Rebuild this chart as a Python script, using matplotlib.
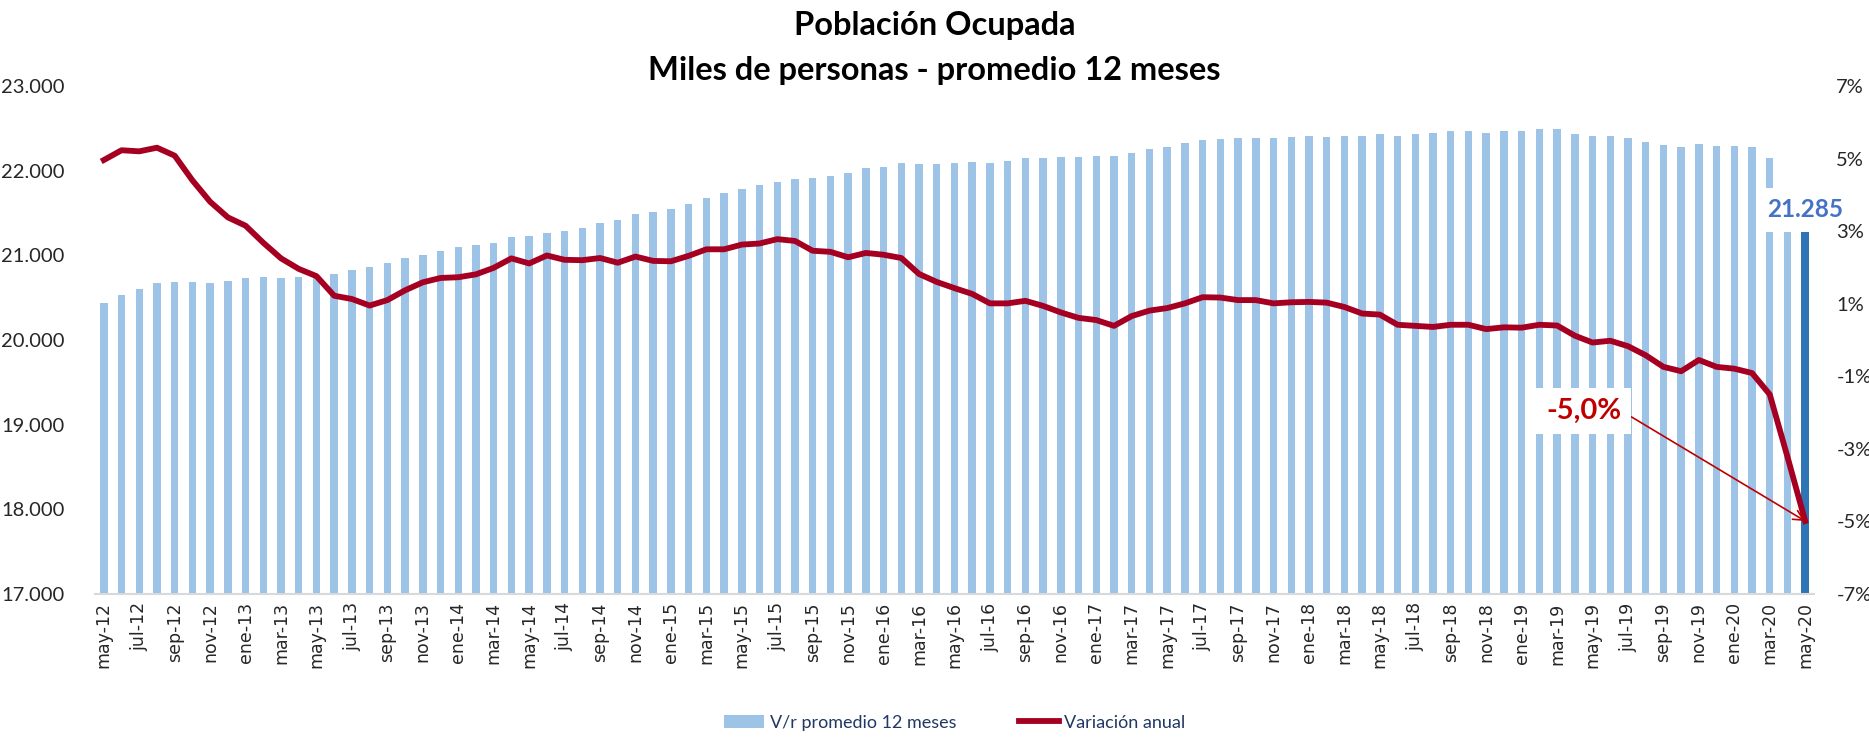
import matplotlib.pyplot as plt
import matplotlib.ticker as mticker
import numpy as np

# meses en español (cada mes de may-12 a may-20)
mes_abrev = ['ene', 'feb', 'mar', 'abr', 'may', 'jun',
             'jul', 'ago', 'sep', 'oct', 'nov', 'dic']
meses = []
for anio in range(12, 21):
  for m in range(12):
    if (anio == 12 and m < 4) or (anio == 20 and m > 4):
      continue
    meses.append(mes_abrev[m] + "-" + str(anio))

# ocupados, miles de personas - promedio 12 meses
ocupados = [
  20432, 20537, 20600, 20676, 20684, 20684, 20676, 20701, 20731, 20739,
  20735, 20743, 20760, 20781, 20827, 20861, 20912, 20966, 21008, 21051,
  21093, 21118, 21147, 21211, 21223, 21261, 21282, 21324, 21379, 21421,
  21493, 21509, 21552, 21606, 21678, 21733, 21783, 21829, 21872, 21897,
  21909, 21935, 21977, 22027, 22044, 22086, 22074, 22078, 22086, 22099,
  22095, 22120, 22145, 22149, 22158, 22162, 22171, 22175, 22213, 22259,
  22276, 22322, 22360, 22377, 22385, 22385, 22381, 22398, 22406, 22402,
  22415, 22415, 22432, 22415, 22436, 22448, 22474, 22474, 22440, 22465,
  22469, 22491, 22495, 22432, 22406, 22406, 22385, 22339, 22301, 22280,
  22314, 22297, 22293, 22280, 22149, 21650, 21285]

# variación anual (%)
variacion = [
  4.96, 5.23, 5.20, 5.30, 5.08, 4.40, 3.81, 3.38, 3.15, 2.68,
  2.25, 1.96, 1.76, 1.22, 1.13, 0.95, 1.10, 1.37, 1.59, 1.71,
  1.73, 1.81, 1.99, 2.25, 2.11, 2.33, 2.21, 2.20, 2.26, 2.13,
  2.30, 2.18, 2.17, 2.32, 2.50, 2.50, 2.63, 2.66, 2.78, 2.73,
  2.46, 2.43, 2.28, 2.40, 2.35, 2.26, 1.82, 1.60, 1.43, 1.27,
  1.01, 1.01, 1.08, 0.94, 0.76, 0.61, 0.55, 0.39, 0.66, 0.81,
  0.88, 1.01, 1.18, 1.17, 1.10, 1.10, 1.01, 1.04, 1.05, 1.03,
  0.91, 0.73, 0.70, 0.42, 0.39, 0.36, 0.42, 0.42, 0.30, 0.35,
  0.34, 0.42, 0.40, 0.12, -0.07, -0.02, -0.17, -0.42, -0.74, -0.86,
  -0.55, -0.74, -0.79, -0.91, -1.50, -3.22, -4.99]

fuente = ['Lato', 'DejaVu Sans']
azul_claro = '#9DC3E6'
azul = '#2E75B6'
rojo = '#A50021'

x = np.arange(len(meses))
colores = [azul_claro] * (len(meses) - 1) + [azul]

fig = plt.figure(figsize=(18.69, 7.39), dpi=100)
ax = fig.add_axes([0.0508, 0.1962, 0.9198, 0.6874])
ax2 = ax.twinx()

barras = ax.bar(x, ocupados, width=0.42, color=colores, zorder=2)
linea, = ax2.plot(x, variacion, color=rojo, linewidth=4.2,
                  solid_joinstyle='round', zorder=3)

ax.set_xlim(-0.5, len(meses) - 0.5)
ax.set_ylim(17000, 23000)
ax2.set_ylim(-7, 7)
ax.set_yticks(np.arange(17000, 23001, 1000))
ax2.set_yticks(np.arange(-7, 8, 2))
ax.yaxis.set_major_formatter(mticker.FuncFormatter(
  lambda v, p: "{:,.0f}".format(v).replace(",", ".")))
ax2.yaxis.set_major_formatter(mticker.FuncFormatter(
  lambda v, p: "{:.0f}%".format(v)))

ax.set_xticks(x[::2])
ax.set_xticklabels(meses[::2], rotation=90, fontsize=12.5,
                   family='DejaVu Sans', color='#262626')

for a in (ax, ax2):
  for s in a.spines.values():
    s.set_visible(False)
  a.tick_params(length=0)
ax.spines['bottom'].set_visible(True)
ax.spines['bottom'].set_color('#D9D9D9')
ax.spines['bottom'].set_linewidth(1.5)

ax.tick_params(axis='y', pad=22)
ax.tick_params(axis='x', pad=6)
ax2.tick_params(axis='y', pad=16)
for lab in ax.get_yticklabels() + ax2.get_yticklabels():
  lab.set_family(fuente)
  lab.set_fontsize(14.5)
  lab.set_color('#262626')

fig.suptitle("Población Ocupada\nMiles de personas - promedio 12 meses",
             y=0.985, fontsize=23.5, fontweight='bold', family=fuente,
             linespacing=1.65)

# etiqueta del último dato
ax.annotate("{:,.0f}".format(ocupados[-1]).replace(",", "."),
            xy=(x[-1], ocupados[-1]), xytext=(0, 7),
            textcoords='offset points', ha='center', va='bottom',
            fontsize=17.5, fontweight='bold', color='#4472C4', family=fuente,
            bbox=dict(boxstyle='square,pad=0.45', fc='white', ec='none'),
            zorder=5)

# etiqueta de la variación, con flecha al último punto
ax2.annotate("-5,0%", xy=(x[-1], variacion[-1]), xytext=(83.5, -1.95),
             textcoords='data', ha='center', va='center',
             fontsize=21, fontweight='bold', color='#C00000', family=fuente,
             bbox=dict(boxstyle='square,pad=0.35', fc='white', ec='none'),
             arrowprops=dict(arrowstyle='->', color='#C00000', lw=1.2,
                             shrinkA=0, shrinkB=0, mutation_scale=18,
                             relpos=(1.0, 0.5)),
             zorder=6)

leg = fig.legend([barras, linea], ["V/r promedio 12 meses", "Variación anual"],
                 loc='center', bbox_to_anchor=(0.511, 0.022), ncol=2,
                 frameon=False, prop={'family': fuente, 'size': 13},
                 handlelength=2.2, columnspacing=3.5, handletextpad=0.3)
for t in leg.get_texts():
  t.set_color('#203864')

fig.savefig("out.png", dpi=100)
